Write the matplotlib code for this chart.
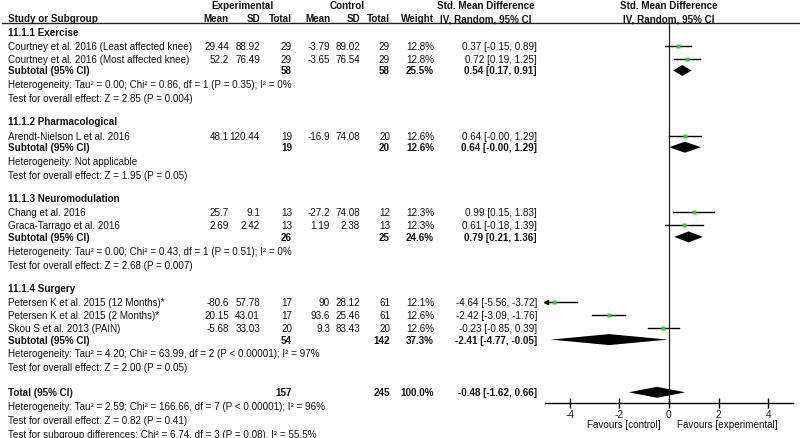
import matplotlib
matplotlib.use("Agg")
import matplotlib.pyplot as plt
import matplotlib.transforms as mtransforms

plt.rcParams['font.family'] = ['Liberation Sans', 'DejaVu Sans']

# subgroups
group_names = ["11.1.1 Exercise", "11.1.2 Pharmacological",
               "11.1.3 Neuromodulation", "11.1.4 Surgery"]

# studies, grouped
study_group = [0, 0, 1, 2, 2, 3, 3, 3]
study_names = ["Courtney et al. 2016 (Least affected knee)",
               "Courtney et al. 2016 (Most affected knee)",
               "Arendt-Nielson L et al. 2016",
               "Chang et al. 2016",
               "Graca-Tarrago et al. 2016",
               "Petersen K et al. 2015 (12 Months)*",
               "Petersen K et al. 2015 (2 Months)*",
               "Skou S et al. 2013 (PAIN)"]
exp_mean = ["29.44", "52.2", "48.1", "25.7", "2.69", "-80.6", "20.15", "-5.68"]
exp_sd = ["88.92", "76.49", "120.44", "9.1", "2.42", "57.78", "43.01", "33.03"]
exp_n = [29, 29, 19, 13, 13, 17, 17, 20]
ctl_mean = ["-3.79", "-3.65", "-16.9", "-27.2", "1.19", "90", "93.6", "9.3"]
ctl_sd = ["89.02", "76.54", "74.08", "74.08", "2.38", "28.12", "25.46", "83.43"]
ctl_n = [29, 29, 20, 12, 13, 61, 61, 20]
weight = [12.8, 12.8, 12.6, 12.3, 12.3, 12.1, 12.6, 12.6]
smd = [0.37, 0.72, 0.64, 0.99, 0.61, -4.64, -2.42, -0.23]
smd_lo = [-0.15, 0.19, -0.0, 0.15, -0.18, -5.56, -3.09, -0.85]
smd_hi = [0.89, 1.25, 1.29, 1.83, 1.39, -3.72, -1.76, 0.39]

# subtotals
sub_exp_n = [58, 19, 26, 54]
sub_ctl_n = [58, 20, 25, 142]
sub_weight = [25.5, 12.6, 24.6, 37.3]
sub_smd = [0.54, 0.64, 0.79, -2.41]
sub_lo = [0.17, -0.0, 0.21, -4.77]
sub_hi = [0.91, 1.29, 1.36, -0.05]
sub_het = ["Heterogeneity: Tau\u00b2 = 0.00; Chi\u00b2 = 0.86, df = 1 (P = 0.35); I\u00b2 = 0%",
           "Heterogeneity: Not applicable",
           "Heterogeneity: Tau\u00b2 = 0.00; Chi\u00b2 = 0.43, df = 1 (P = 0.51); I\u00b2 = 0%",
           "Heterogeneity: Tau\u00b2 = 4.20; Chi\u00b2 = 63.99, df = 2 (P < 0.00001); I\u00b2 = 97%"]
sub_test = ["Test for overall effect: Z = 2.85 (P = 0.004)",
            "Test for overall effect: Z = 1.95 (P = 0.05)",
            "Test for overall effect: Z = 2.68 (P = 0.007)",
            "Test for overall effect: Z = 2.00 (P = 0.05)"]

# overall
total_exp_n = 157
total_ctl_n = 245
total_weight = 100.0
total_smd = -0.48
total_lo = -1.62
total_hi = 0.66
total_notes = ["Heterogeneity: Tau\u00b2 = 2.59; Chi\u00b2 = 166.66, df = 7 (P < 0.00001); I\u00b2 = 96%",
               "Test for overall effect: Z = 0.82 (P = 0.41)",
               "Test for subgroup differences: Chi\u00b2 = 6.74, df = 3 (P = 0.08), I\u00b2 = 55.5%"]

xticks = [-4, -2, 0, 2, 4]

W, H = 800, 439
fig = plt.figure(figsize=(8, 4.39), dpi=100)
FS = 7.1
GREEN = "#33cc33"

# forest axes, y in pixels from top
ax_x0, ax_x1, ax_y = 545, 793, 404
ax = fig.add_axes([ax_x0 / W, (H - ax_y) / H, (ax_x1 - ax_x0) / W, ax_y / H])
ax.set_xlim(-5, 5)
ax.set_ylim(ax_y, 0)
ax.patch.set_alpha(0)
for s in ["top", "right", "left"]:
    ax.spines[s].set_visible(False)
ax.spines["bottom"].set_linewidth(1.0)
ax.set_yticks([])
ax.set_xticks(xticks)
ax.set_xticklabels([str(t) for t in xticks], fontsize=FS + 0.3, color="#222222")
ax.tick_params(axis="x", direction="inout", length=7, width=1.0, pad=1)

tr = mtransforms.blended_transform_factory(fig.transFigure, ax.transData)


def txt(x, y, s, ha="left", bold=False):
    ax.text(x / W, y, s, transform=tr, ha=ha, va="center", fontsize=FS,
            fontweight="bold" if bold else "normal", color="#111111", clip_on=False)


# column right edges
c_name = 8
c_em, c_esd, c_en = 229, 260, 292
c_cm, c_csd, c_cn = 330, 360, 390
c_w, c_ci = 434, 537

# header
txt(242, 6, "Experimental", ha="center", bold=True)
txt(347, 6, "Control", ha="center", bold=True)
txt(486, 6, "Std. Mean Difference", ha="center", bold=True)
txt(669, 6, "Std. Mean Difference", ha="center", bold=True)
txt(c_name, 19, "Study or Subgroup", bold=True)
for x, s in [(c_em, "Mean"), (c_esd, "SD"), (c_en, "Total"), (c_cm, "Mean"),
             (c_csd, "SD"), (c_cn, "Total"), (c_w, "Weight")]:
    txt(x, 19, s, ha="right", bold=True)
txt(486, 19, "IV, Random, 95% CI", ha="center", bold=True)
txt(669, 19, "IV, Random, 95% CI", ha="center", bold=True)
ax.plot([2 / W, 1.0], [24, 24], transform=tr, color="#222222", lw=1.0, clip_on=False)

# zero line
ax.plot([0, 0], [24, ax_y], color="#222222", lw=0.9)


def ci_text(m, lo, hi):
    return f"{m:.2f} [{lo:.2f}, {hi:.2f}]"


def diamond(y, m, lo, hi):
    ax.fill([lo, m, hi, m], [y, y - 5.5, y, y + 5.5], color="black", lw=0, clip_on=False)


y = 32.5
for g, gname in enumerate(group_names):
    txt(c_name, y, gname, bold=True)
    y += 14.5
    idx = [i for i, sg in enumerate(study_group) if sg == g]
    for k, i in enumerate(idx):
        if k > 0:
            y += 13
        txt(c_name, y, study_names[i])
        txt(c_em, y, exp_mean[i], ha="right")
        txt(c_esd, y, exp_sd[i], ha="right")
        txt(c_en, y, str(exp_n[i]), ha="right")
        txt(c_cm, y, ctl_mean[i], ha="right")
        txt(c_csd, y, ctl_sd[i], ha="right")
        txt(c_cn, y, str(ctl_n[i]), ha="right")
        txt(c_w, y, f"{weight[i]:.1f}%", ha="right")
        txt(c_ci, y, ci_text(smd[i], smd_lo[i], smd_hi[i]), ha="right")
        lo = max(smd_lo[i], -4.95)
        ax.plot([lo, smd_hi[i]], [y, y], color="black", lw=1.0, clip_on=False)
        if smd_lo[i] < -5:
            ax.plot([lo], [y], marker="<", ms=3, color="black", clip_on=False)
        ax.plot([smd[i]], [y], marker="s", ms=3.2, color=GREEN, mec="none", clip_on=False)
    y += 11.5
    txt(c_name, y, "Subtotal (95% CI)", bold=True)
    txt(c_en, y, str(sub_exp_n[g]), ha="right", bold=True)
    txt(c_cn, y, str(sub_ctl_n[g]), ha="right", bold=True)
    txt(c_w, y, f"{sub_weight[g]:.1f}%", ha="right", bold=True)
    txt(c_ci, y, ci_text(sub_smd[g], sub_lo[g], sub_hi[g]), ha="right", bold=True)
    diamond(y, sub_smd[g], sub_lo[g], sub_hi[g])
    y += 13.7
    txt(c_name, y, sub_het[g])
    y += 14
    txt(c_name, y, sub_test[g])
    y += 23

y += 2
txt(c_name, y, "Total (95% CI)", bold=True)
txt(c_en, y, str(total_exp_n), ha="right", bold=True)
txt(c_cn, y, str(total_ctl_n), ha="right", bold=True)
txt(c_w, y, f"{total_weight:.1f}%", ha="right", bold=True)
txt(c_ci, y, ci_text(total_smd, total_lo, total_hi), ha="right", bold=True)
diamond(y, total_smd, total_lo, total_hi)
for note in total_notes:
    y += 14
    txt(c_name, y, note)

# favours labels
txt(661, 425, "Favours [control]", ha="right")
txt(677, 425, "Favours [experimental]", ha="left")

fig.savefig("out.png", dpi=100)
